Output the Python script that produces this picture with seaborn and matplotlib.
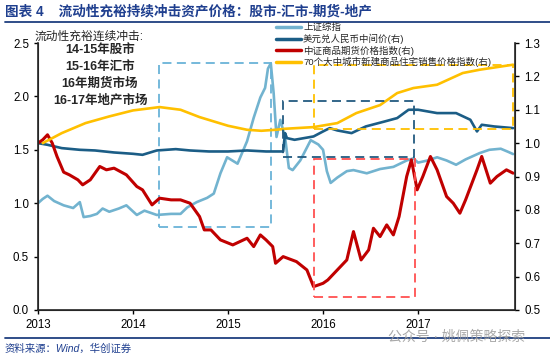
import numpy as np
import pandas as pd
import matplotlib
matplotlib.use('Agg')
import matplotlib.pyplot as plt
import seaborn as sns
from matplotlib.patches import Rectangle
from matplotlib.lines import Line2D

# 上证综指 (left axis), normalised
sh_t = [2013.00, 2013.05, 2013.10, 2013.17, 2013.27, 2013.37, 2013.44, 2013.48, 2013.55, 2013.62,
        2013.68, 2013.75, 2013.85, 2013.93, 2014.04, 2014.12, 2014.25, 2014.40, 2014.50, 2014.57,
        2014.67, 2014.78, 2014.85, 2014.92, 2014.99, 2015.10, 2015.20, 2015.27, 2015.34, 2015.39,
        2015.42, 2015.45, 2015.48, 2015.51, 2015.55, 2015.60, 2015.64, 2015.68, 2015.76, 2015.87,
        2015.95, 2016.00, 2016.04, 2016.08, 2016.15, 2016.25, 2016.32, 2016.46, 2016.60, 2016.74,
        2016.88, 2016.95, 2017.00, 2017.10, 2017.20, 2017.30, 2017.40, 2017.50, 2017.65, 2017.75,
        2017.87, 2017.95, 2018.00]
sh_v = [1.00, 1.04, 1.07, 1.02, 0.98, 0.955, 1.01, 0.87, 0.88, 0.90,
        0.95, 0.92, 0.95, 0.98, 0.89, 0.93, 0.89, 0.90, 0.90, 0.96,
        1.01, 1.05, 1.09, 1.28, 1.43, 1.37, 1.58, 1.80, 1.99, 2.08,
        2.26, 2.31, 2.03, 1.62, 1.78, 1.62, 1.33, 1.31, 1.40, 1.59,
        1.55, 1.50, 1.30, 1.19, 1.24, 1.30, 1.31, 1.28, 1.32, 1.34,
        1.40, 1.42, 1.38, 1.40, 1.43, 1.40, 1.36, 1.41, 1.47, 1.50,
        1.51, 1.48, 1.46]

# 美元兑人民币中间价 (right axis)
fx_t = [2013.00, 2013.10, 2013.25, 2013.44, 2013.60, 2013.80, 2014.00, 2014.10, 2014.25, 2014.45,
        2014.60, 2014.80, 2015.00, 2015.20, 2015.40, 2015.58, 2015.60, 2015.62, 2015.70, 2015.80,
        2015.90, 2016.00, 2016.07, 2016.15, 2016.30, 2016.45, 2016.65, 2016.78, 2016.90, 2017.00,
        2017.20, 2017.40, 2017.55, 2017.62, 2017.67, 2017.80, 2018.00]
fx_v = [1.000, 0.995, 0.985, 0.980, 0.978, 0.972, 0.968, 0.965, 0.978, 0.982,
        0.978, 0.975, 0.975, 0.978, 0.975, 0.975, 1.030, 1.015, 1.010, 1.015,
        1.020, 1.035, 1.045, 1.038, 1.030, 1.050, 1.065, 1.075, 1.100, 1.100,
        1.090, 1.090, 1.070, 1.035, 1.055, 1.050, 1.045]

# 中证商品期货价格指数 (right axis)
cf_t = [2013.00, 2013.05, 2013.10, 2013.15, 2013.20, 2013.27, 2013.33, 2013.42, 2013.47, 2013.55,
        2013.65, 2013.72, 2013.80, 2013.93, 2014.04, 2014.10, 2014.20, 2014.28, 2014.40, 2014.50,
        2014.60, 2014.70, 2014.75, 2014.82, 2014.92, 2015.05, 2015.20, 2015.27, 2015.34, 2015.40,
        2015.47, 2015.50, 2015.58, 2015.72, 2015.83, 2015.90, 2016.00, 2016.05, 2016.15, 2016.25,
        2016.32, 2016.40, 2016.48, 2016.53, 2016.60, 2016.67, 2016.74, 2016.80, 2016.88, 2016.93,
        2016.99, 2017.05, 2017.13, 2017.20, 2017.30, 2017.37, 2017.44, 2017.50, 2017.62, 2017.67,
        2017.76, 2017.83, 2017.93, 2018.00]
cf_v = [1.000, 1.010, 1.025, 1.000, 0.960, 0.913, 0.905, 0.890, 0.875, 0.890,
        0.930, 0.920, 0.925, 0.905, 0.870, 0.860, 0.815, 0.835, 0.830, 0.830,
        0.820, 0.780, 0.740, 0.740, 0.710, 0.695, 0.715, 0.690, 0.725, 0.710,
        0.690, 0.640, 0.660, 0.645, 0.620, 0.570, 0.580, 0.590, 0.620, 0.650,
        0.735, 0.650, 0.680, 0.745, 0.720, 0.755, 0.725, 0.780, 0.900, 0.950,
        0.860, 0.900, 0.960, 0.920, 0.840, 0.820, 0.790, 0.830, 0.920, 0.960,
        0.880, 0.900, 0.920, 0.910]

# 70个大中城市新建商品住宅销售价格指数 (right axis)
hp_t = [2013.05, 2013.25, 2013.50, 2013.75, 2014.00, 2014.28, 2014.50, 2014.70, 2014.85, 2015.00,
        2015.20, 2015.35, 2015.50, 2015.60, 2015.90, 2016.15, 2016.35, 2016.60, 2016.78, 2016.95,
        2017.20, 2017.47, 2017.65, 2018.00]
hp_v = [1.000, 1.030, 1.060, 1.080, 1.098, 1.108, 1.100, 1.078, 1.065, 1.052,
        1.040, 1.037, 1.040, 1.043, 1.048, 1.060, 1.090, 1.114, 1.150, 1.165,
        1.175, 1.210, 1.220, 1.235]

labels = ['上证综指', '美元兑人民币中间价(右)', '中证商品期货价格指数(右)',
          '70个大中城市新建商品住宅销售价格指数(右)']
colors = ['#72b3cf', '#1b5d86', '#c00000', '#ffc000']
box_colors = ['#6ab3d8', '#235a80', '#ff5050', '#ffc000']

# highlight boxes: (x0, x1, y0, y1); first one on left axis, rest on right axis
boxes = [(2014.27, 2015.45, 0.78, 2.31),
         (2015.58, 2016.96, 0.958, 1.126),
         (2015.90, 2016.97, 0.54, 0.953),
         (2015.90, 2018.00, 1.042, 1.234)]

year_ticks = [2013, 2014, 2015, 2016, 2017]

sns.set_style('ticks')
plt.rcParams['font.family'] = ['Liberation Sans', 'Noto Sans CJK SC']
plt.rcParams['axes.unicode_minus'] = False

fig = plt.figure(figsize=(5.5, 3.6), dpi=100)
ax = fig.add_axes([38 / 550, 50 / 360, 477 / 550, 267 / 360])
ax2 = ax.twinx()

sns.lineplot(x=sh_t, y=sh_v, ax=ax, color=colors[0], lw=1.9, legend=False)
sns.lineplot(x=fx_t, y=fx_v, ax=ax2, color=colors[1], lw=1.9, legend=False)
sns.lineplot(x=cf_t, y=cf_v, ax=ax2, color=colors[2], lw=2.2, legend=False)
sns.lineplot(x=hp_t, y=hp_v, ax=ax2, color=colors[3], lw=1.9, legend=False)

for i, (x0, x1, y0, y1) in enumerate(boxes):
    target = ax if i == 0 else ax2
    target.add_patch(Rectangle((x0, y0), x1 - x0, y1 - y0, fill=False,
                               edgecolor=box_colors[i], lw=1.3,
                               linestyle=(0, (5, 3)), zorder=5))

ax.set_xlim(2013, 2018.02)
ax.set_ylim(0, 2.5)
ax2.set_ylim(0.5, 1.3)
ax.set_xticks(year_ticks)
ax.set_xticklabels([str(y) for y in year_ticks])
ax.set_yticks([0, 0.5, 1.0, 1.5, 2.0, 2.5])
ax.set_yticklabels(['0.0', '0.5', '1.0', '1.5', '2.0', '2.5'])
ax2.set_yticks([0.5, 0.6, 0.7, 0.8, 0.9, 1.0, 1.1, 1.2, 1.3])
ax2.set_yticklabels(['0.5', '0.6', '0.7', '0.8', '0.9', '1.0', '1.1', '1.2', '1.3'])
for a in (ax, ax2):
    a.spines['top'].set_visible(False)
    a.tick_params(labelsize=8.3, length=3, width=1, colors='black')
    a.set_xlabel('')
    a.set_ylabel('')
for s in ('left', 'bottom'):
    ax.spines[s].set_linewidth(1.2)
ax2.spines['right'].set_linewidth(1.2)

handles = [Line2D([], [], color=c, lw=2.5) for c in colors]
fig.legend(handles, labels, loc='upper left', bbox_to_anchor=(0.502, 0.935),
           frameon=False, fontsize=6.8, handlelength=2.6, handletextpad=0.25,
           labelspacing=0.14, borderaxespad=0, borderpad=0)

# left annotation
fig.text(35 / 550, 1 - 37 / 360, '流动性充裕连续冲击:', fontsize=8.5, va='center', ha='left')
for k, line in enumerate(['14-15年股市', '15-16年汇市', '16年期货市场', '16-17年地产市场']):
    fig.text(100 / 550, 1 - (50 + 17 * k) / 360, line, fontsize=9, fontweight='bold',
             va='center', ha='center')

# title and frame lines
fig.text(5 / 550, 1 - 11 / 360, '图表 4    流动性充裕持续冲击资产价格：股市-汇市-期货-地产',
         fontsize=9.8, fontweight='bold', color='#1f3f8f', va='center', ha='left')
fig.add_artist(Line2D([5 / 550, 1], [1 - 22 / 360, 1 - 22 / 360], color='#1f3f7f', lw=1.3))
fig.add_artist(Line2D([5 / 550, 1], [1 - 338 / 360, 1 - 338 / 360], color='#1f3f7f', lw=1.3))
fig.text(5 / 550, 1 - 349 / 360, '资料来源：Wind，华创证券', fontsize=7.5, style='italic',
         color='#1f3f8f', va='center', ha='left')
fig.text(525 / 550, 1 - 337 / 360, '公众号 · 姚佩策略探索', fontsize=10, color='#9a9a9a',
         alpha=0.85, va='center', ha='right')

fig.savefig('out.png', dpi=100)
